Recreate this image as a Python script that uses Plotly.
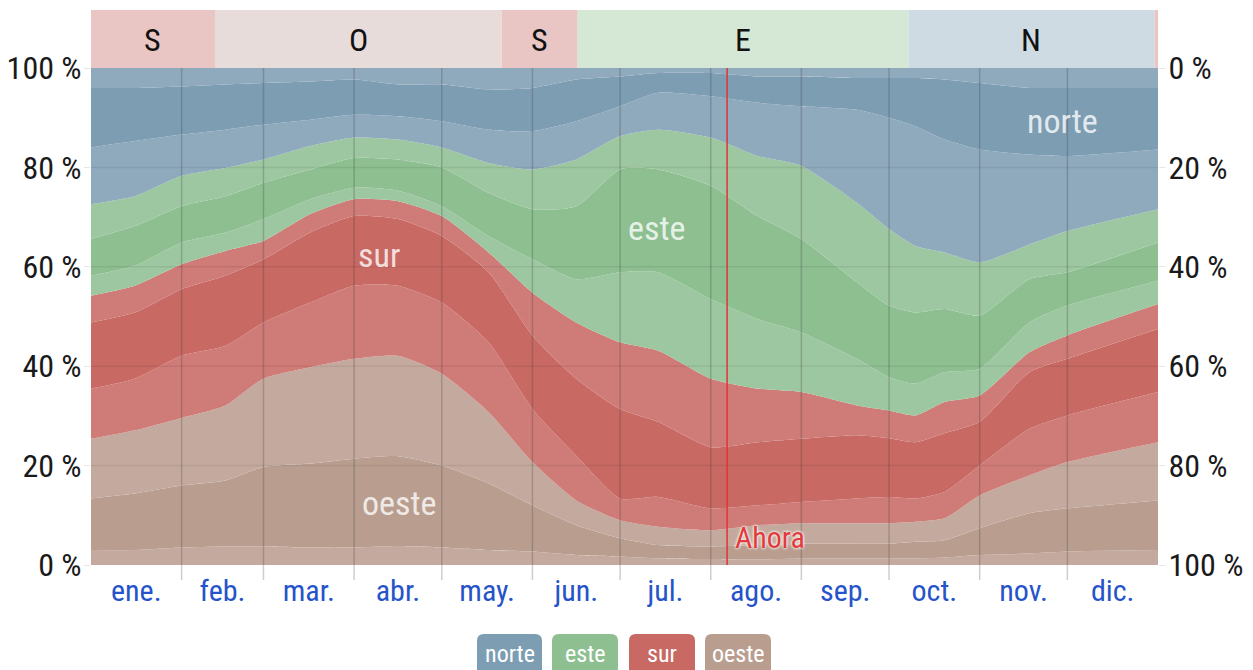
import plotly.graph_objects as go

# ---------------- data ----------------
dias = [0, 15, 31, 46, 59, 75, 90, 105, 120, 136, 151, 166, 181, 194, 212, 228, 243, 262, 273, 282, 292, 304, 321, 334, 365]

# cumulative boundaries (%) from the bottom (oeste) to the top (norte)
lim_oeste_1 = [3.0, 3.0, 3.5, 3.7, 3.7, 3.5, 3.5, 3.8, 3.5, 3.0, 2.7, 2.0, 1.7, 1.3, 1.2, 1.1, 1.3, 1.3, 1.3, 1.3, 1.5, 2.0, 2.3, 2.7, 3.0]
lim_oeste_2 = [13.4, 14.4, 16.0, 17.0, 19.7, 20.4, 21.4, 21.9, 20.0, 16.4, 12.0, 8.0, 5.4, 4.0, 3.7, 4.0, 4.3, 4.3, 4.3, 4.7, 5.0, 7.4, 10.4, 11.4, 13.0]
lim_oeste   = [25.4, 27.1, 29.6, 32.1, 37.5, 39.8, 41.5, 42.1, 38.5, 30.8, 20.7, 13.0, 9.0, 7.7, 7.0, 8.0, 8.4, 8.4, 8.4, 8.7, 9.4, 14.0, 18.0, 20.7, 24.7]
lim_sur_1   = [35.5, 37.5, 42.1, 44.1, 48.8, 52.8, 56.2, 56.2, 52.8, 44.8, 31.4, 22.0, 13.4, 13.7, 11.4, 12.0, 12.7, 13.4, 13.7, 13.4, 14.7, 20.0, 27.4, 30.1, 34.8]
lim_sur_2   = [48.8, 50.8, 55.5, 58.2, 61.5, 66.9, 70.2, 69.6, 66.2, 58.9, 46.2, 37.5, 31.4, 28.8, 23.7, 24.7, 25.4, 26.1, 25.5, 24.7, 26.5, 28.8, 38.8, 41.5, 47.5]
lim_sur     = [54.2, 56.2, 60.5, 63.2, 65.2, 70.6, 73.6, 73.2, 70.2, 62.9, 54.8, 48.8, 44.8, 43.1, 37.5, 35.5, 34.8, 32.1, 31.1, 30.1, 32.8, 34.1, 42.8, 46.2, 52.5]
lim_este_1  = [58.2, 60.2, 64.9, 66.9, 69.6, 73.6, 75.9, 75.3, 72.2, 66.2, 61.5, 57.5, 58.9, 58.9, 53.5, 49.5, 46.8, 41.5, 37.8, 36.5, 38.8, 39.5, 48.8, 52.2, 57.2]
lim_este_2  = [65.6, 68.2, 72.2, 74.2, 76.9, 79.6, 81.9, 81.6, 80.0, 74.9, 71.6, 72.2, 79.6, 79.6, 76.3, 70.2, 65.6, 56.9, 52.2, 50.8, 51.5, 50.2, 57.5, 58.9, 64.9]
lim_este    = [72.6, 74.2, 78.3, 79.9, 81.6, 84.3, 86.0, 85.6, 84.0, 80.9, 79.6, 81.6, 86.3, 87.6, 86.0, 82.3, 80.3, 72.9, 67.6, 64.2, 62.9, 60.9, 64.5, 67.2, 71.6]
lim_norte_1 = [84.0, 85.3, 86.6, 87.6, 88.6, 89.6, 90.6, 90.3, 89.3, 87.6, 87.3, 89.3, 92.3, 95.0, 94.3, 93.0, 92.3, 91.6, 90.0, 88.3, 85.6, 83.6, 82.6, 82.3, 83.6]
lim_norte_2 = [96.0, 96.0, 96.3, 96.7, 97.0, 97.3, 97.7, 96.7, 96.7, 95.7, 96.0, 97.7, 98.3, 99.0, 99.0, 98.3, 98.3, 98.0, 98.0, 98.0, 97.7, 97.0, 96.0, 96.0, 96.0]
lim_total   = [100] * len(dias)

meses = ["ene.", "feb.", "mar.", "abr.", "may.", "jun.", "jul.", "ago.", "sep.", "oct.", "nov.", "dic."]
inicio_mes = [0, 31, 59, 90, 120, 151, 181, 212, 243, 273, 304, 334, 365]

franja_letras = ["S", "O", "S", "E", "N", "S"]
franja_inicio = [0, 42.4, 140.5, 166.5, 279.6, 363.8]
franja_fin = [42.4, 140.5, 166.5, 279.6, 363.8, 365]

ahora_dia = 217.6

direcciones = ["norte", "este", "sur", "oeste"]

# ---------------- styles ----------------
C = {
    "norte_l": "#8fa9bd", "norte_d": "#7d9db3",
    "este_l": "#9dc7a0", "este_d": "#8dbf91",
    "sur_l": "#cf7b77", "sur_d": "#c86963",
    "oeste_l": "#c4aa9e", "oeste_d": "#b99e90",
}
franja_col = {"S": "#e9c5c4", "O": "#e7dcd9", "E": "#d5e8d6", "N": "#cfdbe3"}
btn_col = {"norte": "#7d9db3", "este": "#8dbf91", "sur": "#c86963", "oeste": "#b99e90"}

FONT = "Liberation Sans Narrow, Arial Narrow, Roboto Condensed, Roboto, Liberation Sans, sans-serif"

W, H = 1253, 670
L, R, T, B = 91, 95, 68, 105
PW, PH = W - L - R, H - T - B


def px(x):
    return (x - L) / PW


def py(y):
    return (H - B - y) / PH


fig = go.Figure()

bands = [
    (lim_oeste_1, C["oeste_l"]), (lim_oeste_2, C["oeste_d"]), (lim_oeste, C["oeste_l"]),
    (lim_sur_1, C["sur_l"]), (lim_sur_2, C["sur_d"]), (lim_sur, C["sur_l"]),
    (lim_este_1, C["este_l"]), (lim_este_2, C["este_d"]), (lim_este, C["este_l"]),
    (lim_norte_1, C["norte_l"]), (lim_norte_2, C["norte_d"]), (lim_total, C["norte_l"]),
]
for i, (ys, col) in enumerate(bands):
    fig.add_trace(go.Scatter(
        x=dias, y=ys, mode="lines", line=dict(width=0, color=col, shape="spline", smoothing=0.6),
        fill="tozeroy" if i == 0 else "tonexty", fillcolor=col,
        hoverinfo="skip", showlegend=False))

# invisible trace for the reversed right axis
fig.add_trace(go.Scatter(x=[None], y=[None], yaxis="y2", showlegend=False, hoverinfo="skip"))

shapes = []
# month grid lines
for d in inicio_mes[1:-1]:
    shapes.append(dict(type="line", xref="x", yref="paper", x0=d, x1=d, y0=-0.03, y1=1,
                       line=dict(color="rgba(60,60,60,0.25)", width=1.5), layer="above"))
# horizontal faint lines
for v in [20, 40, 60, 80]:
    shapes.append(dict(type="line", xref="paper", yref="y", x0=0, x1=1, y0=v, y1=v,
                       line=dict(color="rgba(0,0,0,0.07)", width=1.5), layer="above"))
# now line
shapes.append(dict(type="line", xref="x", yref="paper", x0=ahora_dia, x1=ahora_dia, y0=0, y1=1,
                   line=dict(color="#e03535", width=1.5), layer="above"))
# top strip
for lt, a, b in zip(franja_letras, franja_inicio, franja_fin):
    shapes.append(dict(type="rect", xref="x", yref="paper", x0=a, x1=b, y0=1, y1=py(10),
                       fillcolor=franja_col[lt], line=dict(width=0), layer="above"))


def rounded(x0, y0, x1, y1, r):
    pts = [
        ("M", [(x0 + r, y0)]), ("L", [(x1 - r, y0)]), ("Q", [(x1, y0), (x1, y0 + r)]),
        ("L", [(x1, y1 - r)]), ("Q", [(x1, y1), (x1 - r, y1)]), ("L", [(x0 + r, y1)]),
        ("Q", [(x0, y1), (x0, y1 - r)]), ("L", [(x0, y0 + r)]), ("Q", [(x0, y0), (x0 + r, y0)]),
    ]
    s = ""
    for cmd, ps in pts:
        s += cmd + " " + " ".join(f"{px(a):.5f},{py(b):.5f}" for a, b in ps) + " "
    return s + "Z"


btn_x = {"norte": (477, 542), "este": (552, 618), "sur": (629, 695), "oeste": (705, 771)}
annotations = []
for d in direcciones:
    x0, x1 = btn_x[d]
    shapes.append(dict(type="path", xref="paper", yref="paper", path=rounded(x0, 634, x1, 680, 7),
                       fillcolor=btn_col[d], line=dict(width=0)))
    annotations.append(dict(x=px((x0 + x1) / 2), y=py(654), xref="paper", yref="paper", text=d,
                            xanchor="center", yanchor="middle",
                            showarrow=False, font=dict(family=FONT, size=24, color="white")))

for lt, a, b in zip(franja_letras, franja_inicio, franja_fin):
    if b - a > 5:
        annotations.append(dict(x=(a + b) / 2, y=py(40), xref="x", yref="paper", text=lt,
                                xanchor="center", yanchor="middle",
                                showarrow=False, font=dict(family=FONT, size=32, color="#111")))

lbl_font = dict(family=FONT, size=34, color="rgba(255,255,255,0.8)")
annotations += [
    dict(x=98.5, y=62.4, text="sur", showarrow=False, font=lbl_font, xanchor="center", yanchor="middle"),
    dict(x=193.3, y=67.8, text="este", showarrow=False, font=lbl_font, xanchor="center", yanchor="middle"),
    dict(x=332.2, y=89.3, text="norte", showarrow=False, font=lbl_font, xanchor="center", yanchor="middle"),
    dict(x=105.7, y=12.5, text="oeste", showarrow=False, font=lbl_font, xanchor="center", yanchor="middle"),
    dict(x=232.3, y=5.6, text="Ahora", showarrow=False, xanchor="center", yanchor="middle",
         font=dict(family=FONT, size=30, color="#e23b3b", shadow="0 0 3px white, 0 0 3px white")),
]

mid = [(inicio_mes[i] + inicio_mes[i + 1]) / 2 for i in range(12)]
yt = [0, 20, 40, 60, 80, 100]

fig.update_layout(
    width=W, height=H, autosize=False,
    margin=dict(l=L, r=R, t=T, b=B, pad=0),
    paper_bgcolor="white", plot_bgcolor="white",
    showlegend=False, hovermode=False,
    shapes=shapes, annotations=annotations,
    xaxis=dict(range=[0, 365], tickvals=mid, ticktext=meses, showgrid=False, zeroline=False,
               ticks="", ticklabelstandoff=5, fixedrange=True, automargin=False,
               tickfont=dict(family=FONT, size=30, color="#2553c9")),
    yaxis=dict(range=[0, 100], tickvals=yt, ticktext=[f"{v} %" for v in yt], showgrid=False,
               zeroline=False, ticks="outside", ticklen=6, tickcolor="#e6e6e6",
               ticklabelstandoff=-4, fixedrange=True, automargin=False,
               tickfont=dict(family=FONT, size=32, color="#1a1a1a")),
    yaxis2=dict(range=[100, 0], overlaying="y", side="right", tickvals=yt,
                ticktext=[f"{v} %" for v in yt], showgrid=False, zeroline=False,
                ticks="outside", ticklen=6, tickcolor="#e6e6e6", ticklabelstandoff=-3,
                fixedrange=True, automargin=False,
                tickfont=dict(family=FONT, size=32, color="#1a1a1a")),
)

fig.write_html("out.html", config={"displayModeBar": False},
               post_script="document.body.style.margin='0px';document.body.style.overflow='hidden';")
